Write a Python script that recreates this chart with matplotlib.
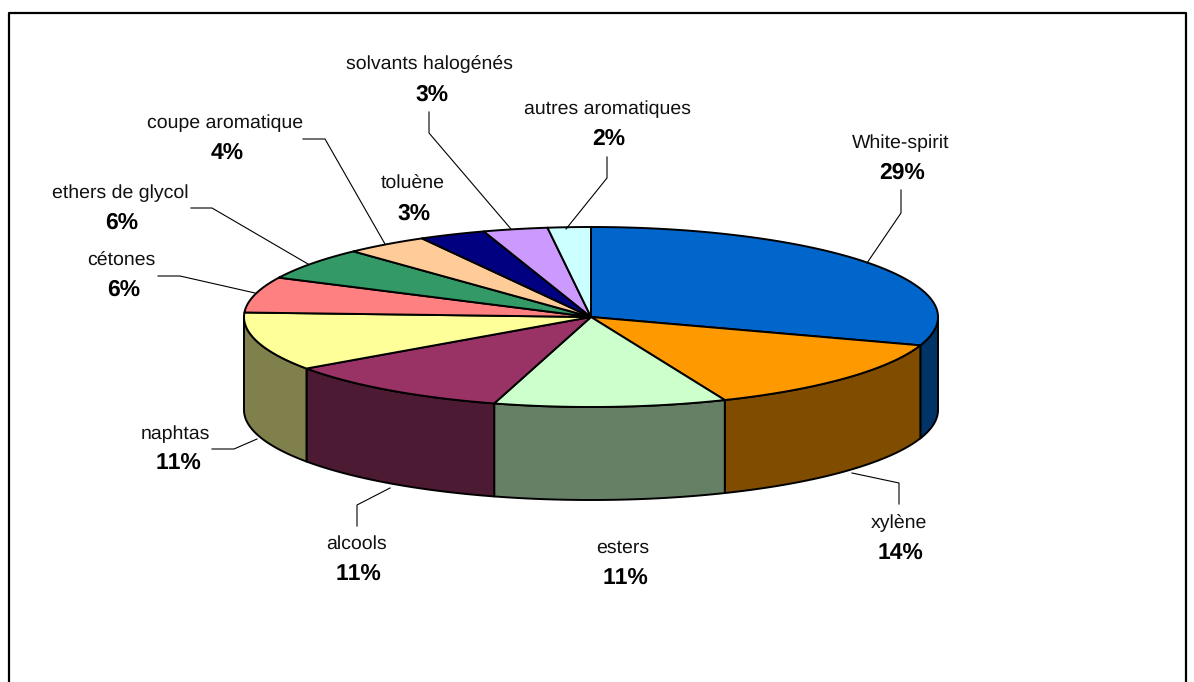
import numpy as np
import matplotlib
matplotlib.use("Agg")
import matplotlib.pyplot as plt

plt.rcParams['font.family'] = ['Liberation Sans', 'DejaVu Sans']
plt.rcParams['text.hinting'] = 'none'
plt.rcParams['text.kerning_factor'] = 12

# clockwise from 12 o'clock
categories = ['White-spirit', 'xylène', 'esters', 'alcools', 'naphtas', 'cétones',
              'ethers de glycol', 'coupe aromatique', 'toluène', 'solvants halogénés',
              'autres aromatiques']
pct_labels = ['29%', '14%', '11%', '11%', '11%', '6%', '6%', '4%', '3%', '3%', '2%']
# slice shares as drawn in the picture (perspective makes them differ a bit from the labels)
shares = [30.1, 13.6, 10.8, 10.8, 10.5, 6.4, 5.8, 3.9, 3.1, 3.0, 2.0]
colors = ['#0066CC', '#FF9900', '#CCFFCC', '#993366', '#FFFF99', '#FF8080',
          '#339966', '#FFCC99', '#000080', '#CC99FF', '#CCFFFF']

# label centres and baselines
name_x = [900.5, 899, 623, 357, 175, 121.5, 120.5, 225, 413, 429.5, 607]
pct_x = [902, 900.5, 625.5, 358.5, 178.5, 123.5, 121.5, 227, 414, 432, 609]
name_y = [148, 528, 553, 549, 439, 266, 198, 128, 189, 69, 114]
pct_y = [179, 559, 584, 580, 469, 296, 229, 159, 220, 101, 145]
leaders = [
    [(901, 190), (901, 213), (867, 263)],
    [(899, 504), (899, 483), (852, 473)],
    None,
    [(357, 526), (357, 505), (390, 488)],
    [(212, 449), (234, 449), (257, 439)],
    [(158, 276), (180, 276), (255, 293)],
    [(191, 208), (212, 208), (308, 264)],
    [(303, 139), (325, 139), (385, 244)],
    None,
    [(429, 112), (429, 133), (511, 229)],
    [(607, 157), (607, 178), (566, 229)],
]

cx, cy, rx, ry, depth = 591, 317, 347, 90, 93


def rim(t):
    return cx + rx * np.sin(t), cy - ry * np.cos(t)


fig = plt.figure(figsize=(11.94, 6.82), dpi=100)
ax = fig.add_axes([0, 0, 1, 1])
ax.set_xlim(0, 1194)
ax.set_ylim(682, 0)
ax.axis('off')

# chart frame, runs off the bottom
ax.plot([8.5, 8.5, 1186, 1186], [682, 12.5, 12.5, 682], color='black', lw=1.6)

edges = np.cumsum([0] + shares) / sum(shares) * 2 * np.pi

# side walls first, only the part facing us (t between 90 and 270 deg)
for i, c in enumerate(colors):
    a, b = max(edges[i], np.pi / 2), min(edges[i + 1], 3 * np.pi / 2)
    if a >= b:
        continue
    t = np.linspace(a, b, 80)
    x, y = rim(t)
    xs = np.r_[x, x[::-1]]
    ys = np.r_[y, (y + depth)[::-1]]
    rgb = np.array(matplotlib.colors.to_rgb(c)) * 0.5
    ax.fill(xs, ys, facecolor=rgb, edgecolor='black', lw=1.4, joinstyle='round', zorder=2)

# top of the pie
for i, c in enumerate(colors):
    t = np.linspace(edges[i], edges[i + 1], 120)
    x, y = rim(t)
    ax.fill(np.r_[cx, x], np.r_[cy, y], facecolor=c, edgecolor='black', lw=1.4,
            joinstyle='round', zorder=3)

for i, name in enumerate(categories):
    ax.text(name_x[i], name_y[i], name, ha='center', va='baseline', fontsize=14,
            color='#111111', zorder=5)
    ax.text(pct_x[i], pct_y[i], pct_labels[i], ha='center', va='baseline', fontsize=16.5,
            fontweight='bold', zorder=5)
    if leaders[i]:
        lx, ly = zip(*leaders[i])
        ax.plot(lx, ly, color='black', lw=0.8, zorder=4)

fig.savefig('out.png', dpi=100)
